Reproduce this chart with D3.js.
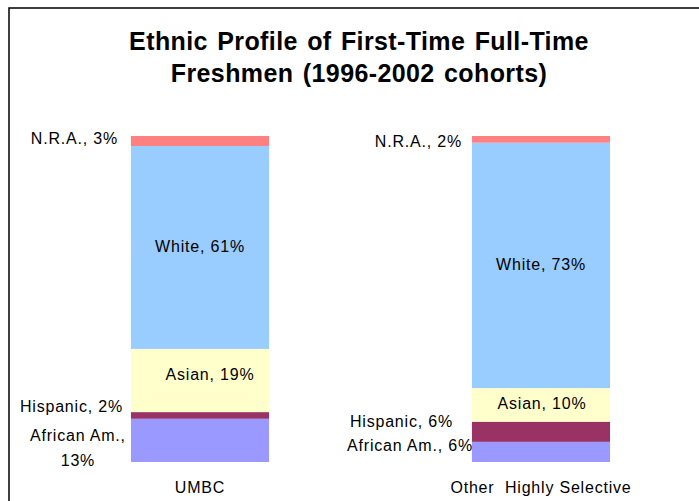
<!DOCTYPE html>
<html><head><meta charset="utf-8">
<script src="https://cdn.jsdelivr.net/npm/d3@7"></script>
<style>body{margin:0;background:#fff}svg{display:block}</style>
</head><body>
<svg id="c" width="699" height="501"></svg>
<script>
// ---- data ----
const categories = ["UMBC", "Other  Highly Selective"];
const groups = ["African Am.", "Hispanic", "Asian", "White", "N.R.A."];
const umbcValues = [13, 2, 19, 61, 3];
const otherValues = [6, 6, 10, 73, 2];
const colors = ["#9999FF", "#993366", "#FFFFCC", "#99CCFF", "#FF8080"];
const titleLines = ["Ethnic Profile of First-Time Full-Time", "Freshmen (1996-2002 cohorts)"];

// ---- build table ----
const seriesByCat = [umbcValues, otherValues];
const table = categories.map((c, i) => {
  const row = {cat: c};
  groups.forEach((g, j) => row[g] = seriesByCat[i][j]);
  return row;
});

const svg = d3.select("#c");
const font = "'Liberation Sans', Arial, sans-serif";

// frame
svg.append("rect").attr("x", 9).attr("y", 8).attr("width", 720).attr("height", 520)
  .attr("fill", "#fff").attr("stroke", "#000").attr("stroke-width", 1.5);

// title
svg.append("g").selectAll("text").data(titleLines).join("text")
  .attr("x", 359).attr("y", (d, i) => 50 + i * 32)
  .attr("text-anchor", "middle")
  .style("font-family", font).style("font-weight", "bold").style("font-size", "25px")
  .style("letter-spacing", "0.4px").style("word-spacing", "2px")
  .attr("fill", "#000").text(d => d);

const x = d3.scaleBand().domain(categories).range([29.5, 711.5])
  .paddingInner(0.595).paddingOuter(0.2975);
const y = d3.scaleLinear().domain([0, 1]).range([462, 136]);
const color = d3.scaleOrdinal().domain(groups).range(colors);

const stack = d3.stack().keys(groups).offset(d3.stackOffsetExpand);
const stacked = stack(table);

svg.append("g").selectAll("g").data(stacked).join("g")
  .attr("fill", d => color(d.key))
  .selectAll("rect").data(d => d).join("rect")
  .attr("x", d => x(d.data.cat))
  .attr("width", x.bandwidth())
  .attr("y", d => y(d[1]))
  .attr("height", d => y(d[0]) - y(d[1]));

// label placement (style/offsets): [catIndex][groupIndex]
// mode: "in" = centered in bar, "out" = left of bar, right aligned, "wrap" = two lines centered left of bar
const place = [
  [ {mode: "wrap", dx: -53, dy: 8}, {mode: "out", dx: -8, dy: -9}, {mode: "in", dx: 10, dy: -6.5},
    {mode: "in", dx: 0, dy: -1}, {mode: "out", dx: -13, dy: -2} ],
  [ {mode: "out", dx: 1, dy: -6}, {mode: "out", dx: -19, dy: -10}, {mode: "in", dx: 1, dy: -1},
    {mode: "in", dx: 0, dy: -1}, {mode: "out", dx: -10, dy: 2.5} ]
];

const lg = svg.append("g").style("font-family", font).style("font-size", "16px")
  .style("letter-spacing", "0.8px").attr("fill", "#000");

stacked.forEach((s, j) => {
  s.forEach((d, i) => {
    const p = place[i][j];
    const v = seriesByCat[i][j];
    const cy = (y(d[0]) + y(d[1])) / 2 + p.dy;
    const left = x(d.data.cat);
    if (p.mode === "in") {
      lg.append("text").attr("x", left + x.bandwidth() / 2 + p.dx).attr("y", cy + 5.5)
        .attr("text-anchor", "middle").text(`${s.key}, ${v}%`);
    } else if (p.mode === "out") {
      lg.append("text").attr("x", left + p.dx).attr("y", cy + 5.5)
        .attr("text-anchor", "end").text(`${s.key}, ${v}%`);
    } else {
      const t = lg.append("text").attr("text-anchor", "middle");
      t.append("tspan").attr("x", left + p.dx).attr("y", cy - 7).text(`${s.key},`);
      t.append("tspan").attr("x", left + p.dx).attr("y", cy + 18).text(`${v}%`);
    }
  });
});

// category axis labels
svg.append("g").selectAll("text").data(categories).join("text")
  .attr("x", d => x(d) + x.bandwidth() / 2).attr("y", 493)
  .attr("text-anchor", "middle")
  .style("font-family", font).style("font-size", "16px").style("letter-spacing", "0.8px")
  .style("white-space", "pre")
  .attr("fill", "#000").text(d => d);
</script>
</body></html>
